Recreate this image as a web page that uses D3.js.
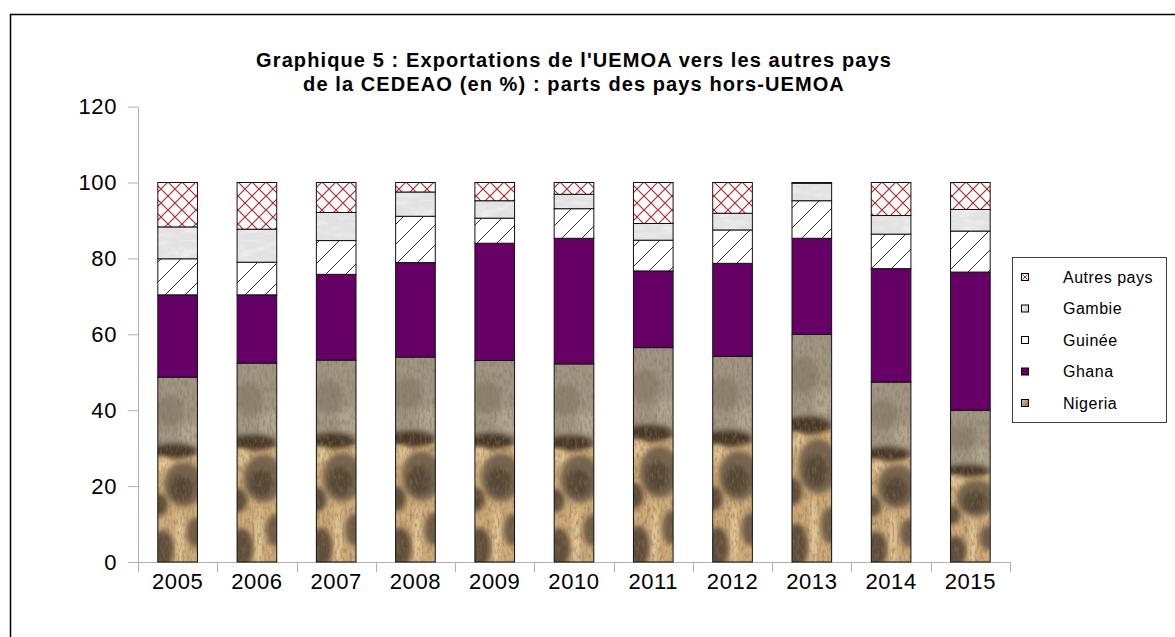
<!DOCTYPE html>
<html>
<head>
<meta charset="utf-8">
<script src="https://cdn.jsdelivr.net/npm/d3@7"></script>
<style>
  body { margin: 0; background: #fff; }
  svg { display: block; font-family: "Liberation Sans", Arial, sans-serif; }
</style>
</head>
<body>
<svg id="chart"></svg>
<script>
// values (% of UEMOA exports to the rest of ECOWAS)
const years = ['2005', '2006', '2007', '2008', '2009', '2010', '2011', '2012', '2013', '2014', '2015'];
const nigeria = [48.7, 52.4, 53.2, 54.0, 53.1, 52.2, 56.5, 54.2, 60.0, 47.4, 40.0];
const ghana = [21.7, 18.0, 22.6, 24.9, 30.9, 33.1, 20.2, 24.5, 25.3, 29.9, 36.4];
const guinee = [9.5, 8.6, 8.9, 12.2, 6.6, 7.8, 8.1, 8.8, 9.9, 9.1, 10.8];
const gambie = [8.4, 8.7, 7.4, 6.4, 4.6, 3.8, 4.4, 4.4, 4.6, 4.9, 5.7];
const autres = [11.7, 12.3, 7.9, 2.5, 4.8, 3.1, 10.8, 8.1, 0.2, 8.7, 7.1];
const seriesNames = ['Nigeria', 'Ghana', 'Guinée', 'Gambie', 'Autres pays'];
const yTicks = [0, 20, 40, 60, 80, 100, 120];
const titleLines = [
  "Graphique 5 : Exportations de l'UEMOA vers les autres pays",
  'de la CEDEAO (en %) : parts des pays hors-UEMOA'
];

const width = 1175;
const height = 637;
const plot = { left: 138, right: 1010, top: 106.6, bottom: 562 };

const svg = d3.select('#chart').attr('width', width).attr('height', height);
const defs = svg.append('defs');

// frame of the chart area (only top and left edges are in view)
svg.append('rect')
  .attr('x', 10.5).attr('y', 14.5)
  .attr('width', 1300).attr('height', 800)
  .attr('fill', 'none').attr('stroke', '#000').attr('stroke-width', 1.5);

// ---- patterns ----
const hatch = defs.append('pattern')
  .attr('id', 'guinee').attr('patternUnits', 'userSpaceOnUse')
  .attr('width', 20).attr('height', 20);
hatch.append('rect').attr('width', 20).attr('height', 20).attr('fill', '#fff');
hatch.append('path').attr('d', 'M-2,22 L22,-2 M-2,2 L2,-2 M18,22 L22,18')
  .attr('stroke', '#333').attr('stroke-width', 1);

const cross = defs.append('pattern')
  .attr('id', 'autres').attr('patternUnits', 'userSpaceOnUse')
  .attr('width', 14).attr('height', 14);
cross.append('rect').attr('width', 14).attr('height', 14).attr('fill', '#fff');
cross.append('path').attr('d', 'M0,0 L14,14 M0,14 L14,0')
  .attr('stroke', '#b02a2a').attr('stroke-width', 1.2);

const gam = defs.append('pattern')
  .attr('id', 'gambie').attr('patternUnits', 'userSpaceOnUse')
  .attr('width', 60).attr('height', 40);
gam.append('rect').attr('width', 60).attr('height', 40).attr('fill', '#e2e2e2');
gam.append('rect').attr('width', 60).attr('height', 40).attr('fill', '#fff')
  .attr('filter', 'url(#marble)').attr('opacity', 0.6);

const marble = defs.append('filter').attr('id', 'marble')
  .attr('x', 0).attr('y', 0).attr('width', '100%').attr('height', '100%');
marble.append('feTurbulence').attr('type', 'fractalNoise')
  .attr('baseFrequency', '0.05 0.15').attr('numOctaves', 3).attr('seed', 7);
marble.append('feColorMatrix').attr('type', 'matrix')
  .attr('values', '0 0 0 0 1  0 0 0 0 1  0 0 0 0 1  2.2 0 0 0 -1.0');

const grain = defs.append('filter').attr('id', 'grain')
  .attr('x', 0).attr('y', 0).attr('width', '100%').attr('height', '100%');
grain.append('feTurbulence').attr('type', 'fractalNoise')
  .attr('baseFrequency', '0.4 0.15').attr('numOctaves', 3).attr('seed', 3);
grain.append('feColorMatrix').attr('type', 'matrix')
  .attr('values', '0 0 0 0 0.22  0 0 0 0 0.17  0 0 0 0 0.1  2.4 0 0 0 -1.0');

const soft = defs.append('filter').attr('id', 'soft')
  .attr('x', '-30%').attr('y', '-30%').attr('width', '160%').attr('height', '160%');
soft.append('feGaussianBlur').attr('stdDeviation', 2.4);

const nigGrad = defs.append('linearGradient').attr('id', 'nigLegend')
  .attr('x1', 0).attr('y1', 0).attr('x2', 1).attr('y2', 1);
nigGrad.append('stop').attr('offset', 0).attr('stop-color', '#e4c49a');
nigGrad.append('stop').attr('offset', 1).attr('stop-color', '#8e6c48');

const gamGrad = defs.append('linearGradient').attr('id', 'gamLegend')
  .attr('x1', 0).attr('y1', 0).attr('x2', 1).attr('y2', 1);
gamGrad.append('stop').attr('offset', 0).attr('stop-color', '#f2f2f2');
gamGrad.append('stop').attr('offset', 1).attr('stop-color', '#c8c8c8');

const fills = {
  'Nigeria': 'url(#nigLegend)',
  'Ghana': '#660066',
  'Guinée': 'url(#guinee)',
  'Gambie': 'url(#gambie)',
  'Autres pays': 'url(#autres)'
};

// ---- scales ----
const x = d3.scaleBand().domain(years)
  .range([plot.left, plot.right]).paddingInner(0.5).paddingOuter(0.25);
const y = d3.scaleLinear().domain([0, 120]).range([plot.bottom, plot.top]);

const rows = years.map((yr, i) => ({
  year: yr,
  'Nigeria': nigeria[i],
  'Ghana': ghana[i],
  'Guinée': guinee[i],
  'Gambie': gambie[i],
  'Autres pays': autres[i]
}));
const stacked = d3.stack().keys(seriesNames)(rows);

// ---- axes ----
const yAxis = svg.append('g')
  .attr('transform', `translate(${plot.left},0)`)
  .call(d3.axisLeft(y).tickValues(yTicks).tickSize(10).tickPadding(11).tickSizeOuter(0));
yAxis.select('.domain').attr('stroke', '#b0b0b0');
yAxis.selectAll('.tick line').attr('stroke', '#b0b0b0');
yAxis.selectAll('.tick text')
  .attr('fill', '#000').style('font-size', '22px')
  .style('font-family', '"Liberation Sans", Arial, sans-serif')
  .style('letter-spacing', '0.6px');

const xAxis = svg.append('g')
  .attr('transform', `translate(0,${plot.bottom})`)
  .call(d3.axisBottom(x).tickSize(0).tickPadding(11).tickSizeOuter(0));
xAxis.select('.domain').attr('stroke', '#b0b0b0');
xAxis.selectAll('.tick text')
  .attr('fill', '#000').style('font-size', '22px')
  .style('font-family', '"Liberation Sans", Arial, sans-serif')
  .style('letter-spacing', '0.6px');
// tick marks between categories
const bounds = years.map(yr => x(yr) - x.step() * x.paddingInner() / 2).concat([plot.right]);
xAxis.selectAll('.bound').data(bounds).enter().append('line')
  .attr('class', 'bound')
  .attr('x1', d => Math.round(d) + 0.5).attr('x2', d => Math.round(d) + 0.5)
  .attr('y1', 0).attr('y2', 10)
  .attr('stroke', '#b0b0b0');

// ---- bars ----
// sketch of the stone photo used to fill Nigeria, as fractions of each bar
const stone = [
  { cx: 0.30, cy: 0.18, rx: 0.35, ry: 0.08, c: '#8e8270' },
  { cx: 0.85, cy: 0.30, rx: 0.30, ry: 0.06, c: '#b2a692' },
  { cx: 0.38, cy: 0.40, rx: 0.60, ry: 0.04, c: '#463828' },
  { cx: 0.10, cy: 0.47, rx: 0.25, ry: 0.04, c: '#e2c390' },
  { cx: 0.66, cy: 0.58, rx: 0.50, ry: 0.12, c: '#75644e' },
  { cx: 0.60, cy: 0.60, rx: 0.30, ry: 0.07, c: '#564636' },
  { cx: 0.02, cy: 0.69, rx: 0.24, ry: 0.06, c: '#5d4c39' },
  { cx: 0.12, cy: 0.93, rx: 0.28, ry: 0.10, c: '#5f4e3b' },
  { cx: 0.95, cy: 0.84, rx: 0.22, ry: 0.08, c: '#6e5c46' },
  { cx: 0.55, cy: 0.88, rx: 0.07, ry: 0.16, c: '#e9d1a2' }
];

stacked.forEach(layer => {
  const g = svg.append('g').attr('class', 'series');
  layer.forEach((d, i) => {
    const bx = x(d.data.year);
    const by = y(d[1]);
    const bw = x.bandwidth();
    const bh = y(d[0]) - y(d[1]);
    if (layer.key === 'Nigeria') {
      const clipId = 'clip' + i;
      defs.append('clipPath').attr('id', clipId)
        .append('rect').attr('x', bx).attr('y', by).attr('width', bw).attr('height', bh);
      const tex = g.append('g').attr('clip-path', `url(#${clipId})`);
      tex.append('rect').attr('x', bx).attr('y', by).attr('width', bw).attr('height', bh)
        .attr('fill', '#a19583');
      tex.append('rect').attr('x', bx).attr('y', by + bh * 0.42).attr('width', bw).attr('height', bh * 0.58)
        .attr('fill', '#d0ab78');
      tex.selectAll('ellipse').data(stone).enter().append('ellipse')
        .attr('cx', s => bx + s.cx * bw).attr('cy', s => by + s.cy * bh)
        .attr('rx', s => s.rx * bw).attr('ry', s => s.ry * bh)
        .attr('fill', s => s.c).attr('filter', 'url(#soft)');
      tex.append('rect').attr('x', bx).attr('y', by).attr('width', bw).attr('height', bh)
        .attr('fill', '#fff').attr('filter', 'url(#grain)').attr('opacity', 0.55);
      g.append('rect').attr('x', bx).attr('y', by).attr('width', bw).attr('height', bh)
        .attr('fill', 'none').attr('stroke', '#111').attr('stroke-width', 1);
    } else {
      g.append('rect').attr('x', bx).attr('y', by).attr('width', bw).attr('height', bh)
        .attr('fill', fills[layer.key]).attr('stroke', '#111').attr('stroke-width', 1);
    }
  });
});

// ---- title ----
const title = svg.append('text')
  .attr('text-anchor', 'middle')
  .style('font-size', '20px').style('font-weight', 'bold')
  .style('letter-spacing', '1.1px');
titleLines.forEach((t, i) => {
  title.append('tspan').attr('x', (plot.left + plot.right) / 2).attr('y', 67 + i * 24).text(t);
});

// ---- legend ----
const legend = svg.append('g').attr('transform', 'translate(1012,257)');
legend.append('rect').attr('x', 0.5).attr('y', 0.5).attr('width', 154).attr('height', 165)
  .attr('fill', '#fff').attr('stroke', '#404040').attr('stroke-width', 1);
const legendOrder = seriesNames.slice().reverse();
const item = legend.selectAll('.item').data(legendOrder).enter().append('g')
  .attr('class', 'item')
  .attr('transform', (d, i) => `translate(0,${20 + i * 31.5})`);
item.append('rect').attr('x', 9.5).attr('y', -3.5).attr('width', 7).attr('height', 7)
  .attr('fill', d => d === 'Nigeria' ? 'url(#nigLegend)' : d === 'Gambie' ? 'url(#gamLegend)' :
    d === 'Ghana' ? '#660066' : '#fff')
  .attr('stroke', '#000').attr('stroke-width', 1);
item.filter(d => d === 'Autres pays').append('path')
  .attr('d', 'M10.5,-2.5 L15.5,2.5 M10.5,2.5 L15.5,-2.5')
  .attr('stroke', '#c0302a').attr('stroke-width', 1);
item.append('text').attr('x', 51).attr('y', 5.5)
  .style('font-size', '16px').style('letter-spacing', '0.5px').text(d => d);
</script>
</body>
</html>
